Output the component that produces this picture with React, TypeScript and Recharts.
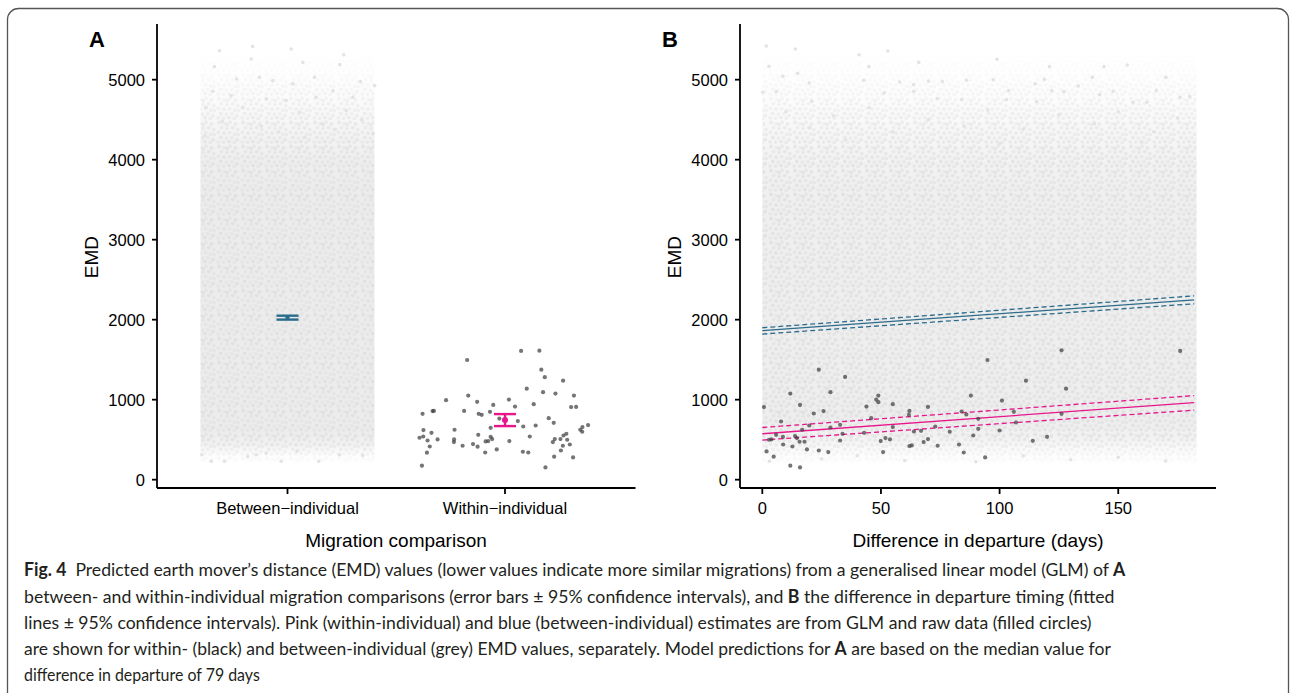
import React, { useLayoutEffect, useRef, useState } from 'react';
import { ComposedChart, Scatter, Line, XAxis, YAxis, ReferenceArea, ErrorBar } from 'recharts';

// ---------- data ----------
const comparisonCategories = ['Between\u2212individual', 'Within\u2212individual'];
const emdTicks = [0, 1000, 2000, 3000, 4000, 5000];
const departureTicks = [0, 50, 100, 150];

// Panel A: within-individual raw EMD values (jittered category position, EMD)
const withinRawA: [number, number][] = [
  [2.074, 1609], [2.158, 1612], [1.826, 1496], [2.167, 1375], [2.183, 1281], [2.267, 1238], [2.100, 1138],
  [2.175, 1094], [2.232, 1076], [2.317, 1051], [1.729, 994], [1.831, 1051], [1.872, 973], [2.018, 1001],
  [1.946, 935], [2.046, 914], [2.132, 944], [2.304, 907], [2.327, 910], [1.621, 823], [1.667, 857],
  [1.673, 860], [1.812, 860], [1.879, 823], [1.893, 811], [1.931, 848], [1.974, 764], [2.059, 732],
  [2.201, 769], [2.224, 711], [2.084, 665], [2.141, 677], [1.934, 648], [1.625, 620], [1.662, 586],
  [1.768, 624], [1.877, 561], [1.934, 536], [1.941, 508], [2.382, 682], [2.356, 657], [2.346, 624],
  [2.355, 599], [1.607, 524], [1.624, 540], [1.644, 490], [1.690, 503], [1.766, 503], [1.765, 470],
  [1.911, 478], [1.923, 483], [2.020, 483], [2.114, 540], [2.229, 508], [2.220, 470], [2.255, 508],
  [2.269, 552], [2.282, 574], [2.286, 499], [1.654, 415], [1.805, 424], [1.853, 445], [1.874, 412],
  [2.266, 424], [2.298, 440], [1.641, 337], [1.909, 340], [1.962, 378], [2.082, 349], [2.107, 340],
  [2.257, 365], [2.226, 287], [2.313, 278], [1.618, 175], [2.186, 153],
];

// Panel B: within-individual raw EMD values (difference in departure, EMD)
const withinRawB: [number, number][] = [
  [23.8, 1375], [34.9, 1284], [11.8, 1076], [28.7, 1094], [0.7, 907], [15.9, 935], [21.7, 827],
  [25.8, 857], [48.0, 1001], [48.9, 1051], [48.9, 969], [43.9, 914], [55.0, 944], [45.9, 769],
  [7.9, 727], [19.8, 677], [32.8, 686], [28.7, 652], [16.8, 624], [5.8, 561], [8.7, 536], [2.8, 499],
  [3.8, 503], [13.8, 545], [14.6, 520], [15.7, 474], [17.8, 474], [33.8, 574], [32.8, 490], [42.9, 586],
  [55.0, 657], [49.9, 483], [51.9, 520], [53.8, 503], [8.8, 440], [12.7, 415], [18.8, 378], [23.8, 365],
  [27.8, 345], [1.8, 353], [4.8, 287], [50.9, 345], [11.8, 175], [15.9, 153], [94.9, 1496], [126.1, 1617],
  [111.1, 1238], [87.9, 1051], [101.0, 989], [62.0, 860], [61.8, 811], [69.8, 910], [84.0, 852],
  [86.0, 815], [91.0, 761], [106.0, 848], [106.9, 715], [126.1, 823], [72.9, 665], [63.9, 602],
  [66.9, 611], [79.0, 599], [91.0, 636], [88.9, 552], [100.0, 615], [69.8, 508], [68.0, 470], [62.0, 420],
  [63.0, 428], [73.9, 424], [82.9, 440], [114.0, 486], [120.0, 536], [84.9, 340], [93.9, 278],
  [176.1, 1609], [128.0, 1138],
];

// Between-individual raw values: sparse fringe of the dense cloud
const betweenFringeA: [number, number][] = [
  [0.687, 5362], [0.840, 5416], [1.017, 5383], [1.259, 5312], [0.664, 5163], [0.833, 5259], [1.071, 5216],
  [1.240, 5188], [1.401, 4926], [1.335, 4976], [0.656, 4855], [0.766, 5009], [0.871, 5029], [0.932, 4988],
  [1.025, 4947], [1.124, 5029], [1.209, 4863], [0.741, 4801], [0.994, 4739], [0.902, 4760], [1.132, 4780],
  [1.301, 4780], [0.625, 4655], [1.393, 4323], [0.794, 4655], [1.055, 4593], [1.270, 4614], [0.70, 4480],
  [0.88, 4420], [1.16, 4450], [1.34, 4500], [0.96, 4350], [1.22, 4380], [0.62, 4300], [1.08, 4280],
  [0.649, 229], [0.710, 229], [0.817, 291], [0.971, 229], [1.144, 229], [0.606, 312], [1.043, 354],
  [1.239, 312], [1.346, 304], [0.856, 312], [0.902, 333],
];
const betweenFringeB: [number, number][] = [
  [1.7, 5420], [13.9, 5383], [2.8, 5167], [40.8, 5312], [52.9, 5358], [65.9, 5216], [98.9, 5254],
  [121.0, 5163], [144.0, 5163], [153.8, 5184], [170.1, 5029], [8.7, 5042], [14.9, 5079], [19.8, 4959],
  [44.9, 5163], [42.8, 4992], [57.9, 4971], [63.8, 4938], [70.0, 4980], [75.9, 4976], [86.1, 4992],
  [97.3, 5000], [115.0, 4947], [118.9, 5004], [139.1, 5029], [166.0, 4863], [180.1, 4788], [0.2, 4842],
  [5.9, 4851], [20.9, 4730], [51.3, 4834], [63.8, 4855], [73.7, 4763], [84.0, 4751], [102.9, 4751],
  [103.8, 4863], [115.6, 4726], [122.0, 4863], [127.1, 4851], [133.1, 4922], [142.2, 4813],
  [147.8, 4855], [156.2, 4718], [162.1, 4718], [176.1, 4780],
  [10, 4600], [30, 4550], [45, 4650], [70, 4500], [95, 4620], [125, 4560], [150, 4600], [175, 4520],
  [20, 4400], [55, 4350], [85, 4420], [110, 4380], [140, 4450], [165, 4350], [35, 4250], [100, 4200], [160, 4220],
  [3, 230], [25, 260], [60, 240], [90, 225], [130, 250], [170, 235], [150, 280], [110, 300], [40, 300],
];

// Dense part of the between-individual cloud: extent [xFrom, xTo, yFrom, yTo]
const cloudExtentA = [0.6, 1.4, 200, 5420];
const cloudExtentB = [0, 183, 180, 5420];
// relative point density along EMD (EMD, density), top to bottom
const cloudDensityA: [number, number][] = [
  [5420, 0], [5100, 0.08], [4800, 0.3], [4400, 0.62], [4000, 0.9], [3600, 1], [600, 1], [450, 0.8], [330, 0.3], [200, 0],
];
const cloudDensityB: [number, number][] = [
  [5420, 0], [5100, 0.08], [4800, 0.25], [4400, 0.55], [4000, 0.8], [3500, 0.95], [700, 1], [500, 0.75], [350, 0.3], [180, 0],
];

// GLM predictions, panel A
const groupPosition = [1, 2];
const groupMean = [2025, 745];
const groupLower = [2001, 670];
const groupUpper = [2050, 820];

// GLM fitted lines, panel B
const fitDays = [0, 182];
const betweenFit = [1862, 2248];
const betweenLower = [1820, 2199];
const betweenUpper = [1899, 2298];
const withinFit = [574, 964];
const withinLower = [495, 869];
const withinUpper = [652, 1051];

// ---------- styles ----------
const BLUE = '#2b6c8d';
const PINK = '#e8168b';
const AXIS_FONT = '"Liberation Sans", Arial, Helvetica, sans-serif';
const tickText = { fill: '#000', fontSize: 16.5, fontFamily: AXIS_FONT };
const axisLineStyle = { stroke: '#000', strokeWidth: 1.8 };

const toPoints = (arr: [number, number][]) => arr.map(([x, y]) => ({ x, y }));

const dot = (r: number, fill: string, opacity: number) => (props: any) =>
  props.cx == null ? <g /> : <circle cx={props.cx} cy={props.cy} r={r} fill={fill} fillOpacity={opacity} />;

const meansA = groupPosition.map((x, i) => ({
  x,
  y: groupMean[i],
  err: [groupMean[i] - groupLower[i], groupUpper[i] - groupMean[i]],
}));
const betweenLineData = fitDays.map((x, i) => ({ x, fit: betweenFit[i], lo: betweenLower[i], hi: betweenUpper[i] }));
const withinLineData = fitDays.map((x, i) => ({ x, fit: withinFit[i], lo: withinLower[i], hi: withinUpper[i] }));

// texture tile for the dense grey cloud
const TEXTURE_DOTS = [
  [3, 2.5], [8.5, 3.6], [14, 2.2], [19.5, 4], [5.5, 7.5], [11, 8.4], [16.6, 7.6], [21.8, 9.6], [2.5, 12.2],
  [8, 13.1], [13.6, 12.6], [18.8, 14.2], [4.8, 17.4], [10.4, 18.1], [15.8, 17.6], [21, 19.6], [2.2, 21.8],
  [7.6, 22.1], [13, 21.6], [18.2, 22.3], [22.2, 14.6], [11.2, 4.6],
];

function DensityGradient({ id, profile, color, power }: { id: string; profile: [number, number][]; color: string; power: number }) {
  const top = profile[0][0];
  const bottom = profile[profile.length - 1][0];
  return (
    <linearGradient id={id} x1="0" y1="0" x2="0" y2="1">
      {profile.map(([v, d], i) => (
        <stop key={i} offset={(top - v) / (top - bottom)} stopColor={color} stopOpacity={Math.pow(d, power)} />
      ))}
    </linearGradient>
  );
}

function CloudDefs({ tag, profile, base }: { tag: string; profile: [number, number][]; base: string }) {
  return (
    <>
      <DensityGradient id={`base${tag}`} profile={profile} color={base} power={1.3} />
      <DensityGradient id={`lum${tag}`} profile={profile} color="#ffffff" power={0.9} />
      <mask id={`mask${tag}`} maskContentUnits="objectBoundingBox">
        <rect x={0} y={0} width={1} height={1} fill={`url(#lum${tag})`} />
      </mask>
      <pattern id={`dots${tag}`} width={24} height={24} patternUnits="userSpaceOnUse">
        {TEXTURE_DOTS.map(([cx, cy], i) => (
          <circle key={i} cx={cx} cy={cy} r={1.9} fill={i % 3 === 0 ? '#e1e1e1' : '#e5e5e5'} />
        ))}
      </pattern>
    </>
  );
}

const cloudShape = (tag: string) => (props: any) => {
  const { x, y, width, height } = props;
  if (x == null || y == null) return <g />;
  return (
    <g>
      <rect x={x} y={y} width={width} height={height} fill={`url(#base${tag})`} />
      <rect x={x} y={y} width={width} height={height} fill={`url(#dots${tag})`} mask={`url(#mask${tag})`} />
    </g>
  );
};

const EMD_DOMAIN = [-104, 5696];

function PanelA() {
  return (
    <ComposedChart width={650} height={560} margin={{ top: 24, right: 14.5, bottom: 32, left: 0 }}>
      <XAxis
        type="number" dataKey="x" domain={[0.4, 2.6]} ticks={groupPosition} allowDataOverflow interval={0}
        tickFormatter={(v: number) => comparisonCategories[Math.round(v) - 1]}
        height={40} tickSize={6} tickMargin={8} tick={tickText} axisLine={axisLineStyle} tickLine={axisLineStyle}
      />
      <YAxis
        type="number" dataKey="y" domain={EMD_DOMAIN} ticks={emdTicks} allowDataOverflow interval={0}
        width={157} tickSize={5} tickMargin={7} tick={tickText} axisLine={axisLineStyle} tickLine={axisLineStyle}
      />
      <ReferenceArea
        x1={cloudExtentA[0]} x2={cloudExtentA[1]} y1={cloudExtentA[2]} y2={cloudExtentA[3]}
        shape={cloudShape('A')} ifOverflow="visible"
      />
      <Scatter data={toPoints(betweenFringeA)} dataKey="y" shape={dot(1.8, '#e3e3e3', 1)} isAnimationActive={false} />
      <Scatter data={toPoints(withinRawA)} dataKey="y" shape={dot(2.1, '#3a3a3a', 0.7)} isAnimationActive={false} />
      <Scatter data={[meansA[0]]} dataKey="y" shape={dot(2.2, BLUE, 1)} isAnimationActive={false}>
        <ErrorBar dataKey="err" direction="y" width={11} stroke={BLUE} strokeWidth={2.4} isAnimationActive={false} />
      </Scatter>
      <Scatter data={[meansA[1]]} dataKey="y" shape={dot(3, PINK, 1)} isAnimationActive={false}>
        <ErrorBar dataKey="err" direction="y" width={11} stroke={PINK} strokeWidth={2.4} isAnimationActive={false} />
      </Scatter>
    </ComposedChart>
  );
}

function PanelB() {
  return (
    <ComposedChart width={640} height={560} margin={{ top: 24, right: 24, bottom: 32, left: 0 }}>
      <XAxis
        type="number" dataKey="x" domain={[-9.4, 191.2]} ticks={departureTicks} allowDataOverflow interval={0}
        height={40} tickSize={6} tickMargin={8} tick={tickText} axisLine={axisLineStyle} tickLine={axisLineStyle}
      />
      <YAxis
        type="number" dataKey="y" domain={EMD_DOMAIN} ticks={emdTicks} allowDataOverflow interval={0}
        width={140} tickSize={5} tickMargin={7} tick={tickText} axisLine={axisLineStyle} tickLine={axisLineStyle}
      />
      <ReferenceArea
        x1={cloudExtentB[0]} x2={cloudExtentB[1]} y1={cloudExtentB[2]} y2={cloudExtentB[3]}
        shape={cloudShape('B')} ifOverflow="visible"
      />
      <Scatter data={toPoints(betweenFringeB)} dataKey="y" shape={dot(1.8, '#e3e3e3', 1)} isAnimationActive={false} />
      <Scatter data={toPoints(withinRawB)} dataKey="y" shape={dot(2.1, '#3a3a3a', 0.7)} isAnimationActive={false} />
      <Line data={betweenLineData} dataKey="fit" stroke={BLUE} strokeWidth={1.3} dot={false} isAnimationActive={false} />
      <Line data={betweenLineData} dataKey="lo" stroke={BLUE} strokeWidth={1.3} strokeDasharray="5 3" dot={false} isAnimationActive={false} />
      <Line data={betweenLineData} dataKey="hi" stroke={BLUE} strokeWidth={1.3} strokeDasharray="5 3" dot={false} isAnimationActive={false} />
      <Line data={withinLineData} dataKey="fit" stroke={PINK} strokeWidth={1.3} dot={false} isAnimationActive={false} />
      <Line data={withinLineData} dataKey="lo" stroke={PINK} strokeWidth={1.3} strokeDasharray="5 3" dot={false} isAnimationActive={false} />
      <Line data={withinLineData} dataKey="hi" stroke={PINK} strokeWidth={1.3} strokeDasharray="5 3" dot={false} isAnimationActive={false} />
    </ComposedChart>
  );
}

const CAP_FONT = 'Lato, "Open Sans", sans-serif';

function CaptionLine({ y, len, parts }: { y: number; len: number; parts: [string, boolean][] }) {
  const ref = useRef<SVGTextElement>(null);
  const [k, setK] = useState(1);
  useLayoutEffect(() => {
    if (ref.current) {
      const w = ref.current.getComputedTextLength();
      if (w > 0) setK(len / w);
    }
  }, [len]);
  return (
    <text ref={ref} x={0} y={0} transform={`translate(24 ${y}) scale(${k} 1)`} fontFamily={CAP_FONT}
      fontSize={18} fill="#231f20" style={{ whiteSpace: 'pre' }}>
      {parts.map(([t, b], j) => (
        <tspan key={j} fontWeight={b ? 'bold' : 'normal'}>{t}</tspan>
      ))}
    </text>
  );
}

export default function App() {
  const capLines: { y: number; len: number; parts: [string, boolean][] }[] = [
    { y: 576, len: 1101.7, parts: [['Fig. 4', true], ['  Predicted earth mover\u2019s distance (EMD) values (lower values indicate more similar migrations) from a generalised linear model (GLM) of ', false], ['A', true]] },
    { y: 602.5, len: 1091, parts: [['between- and within-individual migration comparisons (error bars \u00b1 95% confidence intervals), and ', false], ['B', true], [' the difference in departure timing (fitted', false]] },
    { y: 628.7, len: 1068.3, parts: [['lines \u00b1 95% confidence intervals). Pink (within-individual) and blue (between-individual) estimates are from GLM and raw data (filled circles)', false]] },
    { y: 655, len: 1087.7, parts: [['are shown for within- (black) and between-individual (grey) EMD values, separately. Model predictions for ', false], ['A', true], [' are based on the median value for', false]] },
    { y: 681, len: 236, parts: [['difference in departure of 79 days', false]] },
  ];
  return (
    <div style={{ position: 'absolute', left: 0, top: 0, width: 1290, height: 693, background: '#fff', overflow: 'hidden' }}>
      <svg width={0} height={0} style={{ position: 'absolute' }}>
        <defs>
          <CloudDefs tag="A" profile={cloudDensityA} base="#ececec" />
          <CloudDefs tag="B" profile={cloudDensityB} base="#eeeeee" />
        </defs>
      </svg>
      <div style={{ position: 'absolute', left: 0, top: 0 }}>
        <PanelA />
      </div>
      <div style={{ position: 'absolute', left: 600, top: 0 }}>
        <PanelB />
      </div>
      <svg width={1290} height={693} style={{ position: 'absolute', left: 0, top: 0, pointerEvents: 'none' }}>
        <rect x={7.5} y={8.5} width={1281} height={760} rx={11} fill="none" stroke="#555" strokeWidth={1.3} />
        <text x={89} y={47} fontFamily={AXIS_FONT} fontWeight="bold" fontSize={22} fill="#000">A</text>
        <text x={662} y={47} fontFamily={AXIS_FONT} fontWeight="bold" fontSize={22} fill="#000">B</text>
        <text x={98} y={257} transform="rotate(-90 98 257)" textAnchor="middle" fontFamily={AXIS_FONT} fontSize={19} fill="#000">EMD</text>
        <text x={681} y={257} transform="rotate(-90 681 257)" textAnchor="middle" fontFamily={AXIS_FONT} fontSize={19} fill="#000">EMD</text>
        <text x={396} y={547} textAnchor="middle" fontFamily={AXIS_FONT} fontSize={19} fill="#000">Migration comparison</text>
        <text x={978} y={547} textAnchor="middle" fontFamily={AXIS_FONT} fontSize={19} fill="#000">Difference in departure (days)</text>
        {capLines.map((ln, i) => (
          <CaptionLine key={i} y={ln.y} len={ln.len} parts={ln.parts} />
        ))}
      </svg>
    </div>
  );
}
